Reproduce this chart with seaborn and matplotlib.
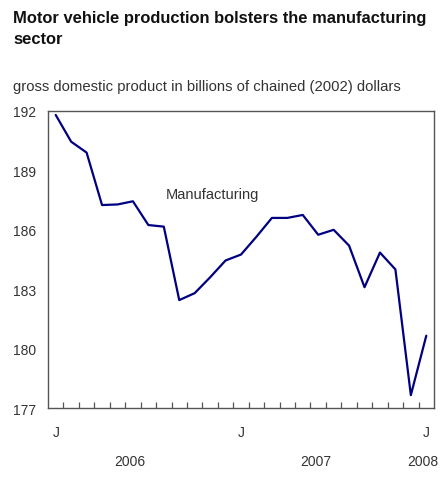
import matplotlib
matplotlib.use("Agg")
import matplotlib.pyplot as plt
import matplotlib.transforms as mtransforms
import seaborn as sns
import pandas as pd
import numpy as np

# Data: monthly, January 2006 to January 2008
months = ["2006-01", "2006-02", "2006-03", "2006-04", "2006-05", "2006-06",
          "2006-07", "2006-08", "2006-09", "2006-10", "2006-11", "2006-12",
          "2007-01", "2007-02", "2007-03", "2007-04", "2007-05", "2007-06",
          "2007-07", "2007-08", "2007-09", "2007-10", "2007-11", "2007-12",
          "2008-01"]
gdp = [191.8, 190.45, 189.9, 187.25, 187.28, 187.44, 186.24, 186.16,
       182.45, 182.8, 183.6, 184.45, 184.75, 185.65, 186.6, 186.6,
       186.75, 185.75, 186.0, 185.2, 183.1, 184.85, 184.0, 177.65, 180.65]
y_ticks = [177, 180, 183, 186, 189, 192]
month_labels = ["J", "J", "J"]
month_label_idx = [0, 12, 24]
years = ["2006", "2007", "2008"]
year_pos = [4.81, 16.84, 23.77]
series_name = "Manufacturing"
title_lines = ["Motor vehicle production bolsters the manufacturing", "sector"]
subtitle = "gross domestic product in billions of chained (2002) dollars"

df = pd.DataFrame({"idx": np.arange(len(months)), "month": months, "gdp": gdp})

sns.set_style("white")
plt.rcParams["font.family"] = ["Liberation Sans", "DejaVu Sans"]

W, H = 441, 485
fig = plt.figure(figsize=(W / 100, H / 100), dpi=100)
ax = fig.add_axes([48 / W, 1 - 409 / H, (434 - 48) / W, (409 - 112) / H])

sns.lineplot(data=df, x="idx", y="gdp", ax=ax, color="#000080", linewidth=1.6)

ax.set_xlim(-0.5, len(months) - 0.5)
ax.set_ylim(177, 192)
ax.set_yticks(y_ticks)
ax.set_yticklabels([str(v) for v in y_ticks], fontsize=10, color="#333333")
ax.tick_params(axis="y", length=0, pad=8.5)

ax.set_xticks(month_label_idx)
ax.set_xticklabels(month_labels, fontsize=10, color="#333333")
ax.set_xticks(np.arange(0.5, len(months) - 1, 1.0), minor=True)
ax.tick_params(axis="x", which="major", length=0, pad=12)
ax.tick_params(axis="x", which="minor", direction="in", length=4, width=0.9,
               color="#555555", bottom=True)
ax.set_xlabel("")
ax.set_ylabel("")

for s in ax.spines.values():
    s.set_visible(True)
    s.set_color("#555555")
    s.set_linewidth(1.0)

trans = mtransforms.blended_transform_factory(ax.transData, fig.transFigure)
for yr, xp in zip(years, year_pos):
    ax.text(xp, 1 - 462 / H, yr, transform=trans, ha="center", va="center",
            fontsize=10, color="#333333")

ax.text(10.12, 187.8, series_name, ha="center", va="center", fontsize=10.5,
        color="#333333")

fig.text(13 / W, 1 - 23.5 / H, title_lines[0], ha="left", va="baseline",
         fontsize=11.9, fontweight="bold", color="#111111")
fig.text(13 / W, 1 - 44.5 / H, title_lines[1], ha="left", va="baseline",
         fontsize=11.9, fontweight="bold", color="#111111")
fig.text(13 / W, 1 - 91.5 / H, subtitle, ha="left", va="baseline",
         fontsize=10.7, color="#333333")

fig.savefig("out.png", dpi=100)
